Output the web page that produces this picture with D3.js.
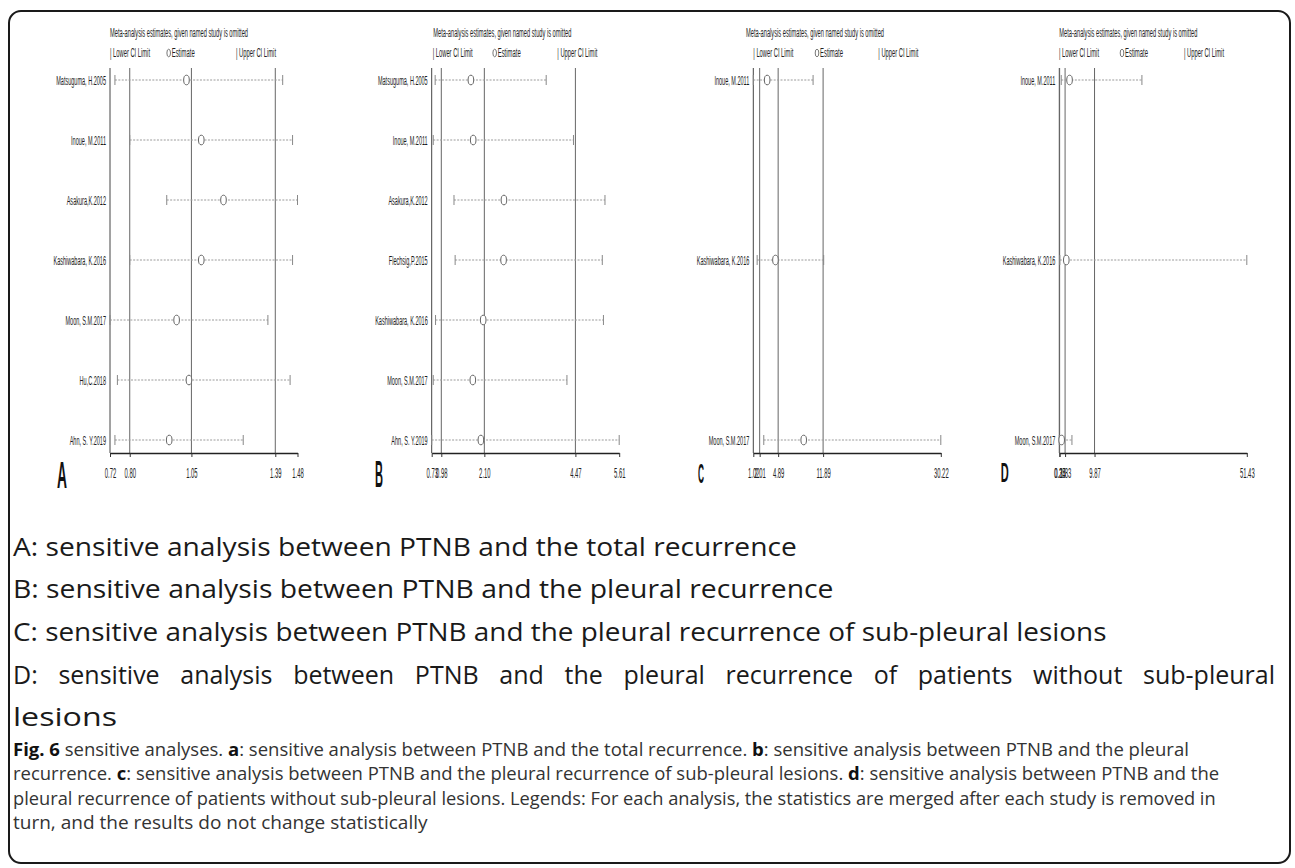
<!DOCTYPE html>
<html><head><meta charset="utf-8">
<script src="https://cdn.jsdelivr.net/npm/d3@7"></script>
<style>body{margin:0;background:#fff}</style>
</head><body><script>
// ---------------- data ----------------
const panelLetters = ["A", "B", "C", "D"];

const studiesA = ["Matsuguma, H.2005", "Inoue, M.2011", "Asakura,K.2012", "Kashiwabara, K.2016", "Moon, S.M.2017", "Hu,C.2018", "Ahn, S. Y.2019"];
const lowerA = [0.74, 0.80, 0.95, 0.80, 0.72, 0.75, 0.74];
const estA   = [1.03, 1.09, 1.18, 1.09, 0.99, 1.04, 0.96];
const upperA = [1.42, 1.46, 1.48, 1.46, 1.36, 1.45, 1.26];
const ticksA = [0.72, 0.80, 1.05, 1.39, 1.48];
const tickLabelsA = ["0.72", "0.80", "1.05", "1.39", "1.48"];

const studiesB = ["Matsuguma, H.2005", "Inoue, M.2011", "Asakura,K.2012", "Flechsig,P.2015", "Kashiwabara, K.2016", "Moon, S.M.2017", "Ahn, S. Y.2019"];
const lowerB = [0.82, 0.77, 1.31, 1.34, 0.83, 0.77, 0.73];
const estB   = [1.75, 1.81, 2.61, 2.60, 2.07, 1.80, 2.01];
const upperB = [3.71, 4.42, 5.24, 5.17, 5.20, 4.25, 5.61];
const ticksB = [0.73, 0.98, 2.10, 4.47, 5.61];
const tickLabelsB = ["0.73", "0.98", "2.10", "4.47", "5.61"];

const studiesC = ["Inoue, M.2011", "Kashiwabara, K.2016", "Moon, S.M.2017"];
const lowerC = [1.02, 1.62, 2.65];
const estC   = [3.18, 4.47, 8.87];
const upperC = [10.33, 11.98, 30.22];
const ticksC = [1.02, 2.01, 4.89, 11.89, 30.22];
const tickLabelsC = ["1.02", "2.01", "4.89", "11.89", "30.22"];

const studiesD = ["Inoue, M.2011", "Kashiwabara, K.2016", "Moon, S.M.2017"];
const lowerD = [0.78, 0.40, 0.25];
const estD   = [3.05, 2.16, 0.90];
const upperD = [22.8, 51.43, 3.70];
const ticksD = [0.25, 0.34, 1.83, 9.87, 51.43];
const tickLabelsD = ["0.25", "0.34", "1.83", "9.87", "51.43"];

const titleText = "Meta-analysis estimates, given named study is omitted";
const legendTexts = ["| Lower CI Limit", "Estimate", "| Upper CI Limit"];

const captionLines = [
  "A: sensitive analysis between PTNB and the total recurrence",
  "B: sensitive analysis between PTNB and the pleural recurrence",
  "C: sensitive analysis between PTNB and the pleural recurrence of sub-pleural lesions",
  "D: sensitive analysis between PTNB and the pleural recurrence of patients without sub-pleural",
  "lesions"
];
const figLines = [
  [["Fig. 6", true], [" sensitive analyses. ", false], ["a", true], [": sensitive analysis between PTNB and the total recurrence. ", false], ["b", true], [": sensitive analysis between PTNB and the pleural", false]],
  [["recurrence. ", false], ["c", true], [": sensitive analysis between PTNB and the pleural recurrence of sub-pleural lesions. ", false], ["d", true], [": sensitive analysis between PTNB and the", false]],
  [["pleural recurrence of patients without sub-pleural lesions. Legends: For each analysis, the statistics are merged after each study is removed in", false]],
  [["turn, and the results do not change statistically", false]]
];

// ---------------- layout ----------------
const W = 1295, H = 868;
const svg = d3.select("body").append("svg").attr("width", W).attr("height", H);
svg.append("rect").attr("width", W).attr("height", H).attr("fill", "#fff");
svg.append("rect").attr("x", 9).attr("y", 11).attr("width", 1281).attr("height", 852)
  .attr("rx", 12).attr("fill", "none").attr("stroke", "#1a1a1a").attr("stroke-width", 2);

const panels = [
  {studies: studiesA, lower: lowerA, est: estA, upper: upperA, ticks: ticksA, labels: tickLabelsA},
  {studies: studiesB, lower: lowerB, est: estB, upper: upperB, ticks: ticksB, labels: tickLabelsB},
  {studies: studiesC, lower: lowerC, est: estC, upper: upperC, ticks: ticksC, labels: tickLabelsC},
  {studies: studiesD, lower: lowerD, est: estD, upper: upperD, ticks: ticksD, labels: tickLabelsD}
];
const layout = [
  {x0: 110,    titleX: 110,    legX: [110, 166.7, 236],      letterX: 57,    letterY: 488, letterSize: 37, letterW: 10},
  {x0: 431.7,  titleX: 433.3,  legX: [432.7, 492.7, 557.3],  letterX: 375,   letterY: 487, letterSize: 37, letterW: 8},
  {x0: 753.3,  titleX: 746,    legX: [753.3, 815, 878.3],    letterX: 698,   letterY: 483, letterSize: 28, letterW: 6},
  {x0: 1059.3, titleX: 1059.3, legX: [1059, 1120, 1184],     letterX: 1000.7, letterY: 482, letterSize: 28, letterW: 8}
];
const PW = 187.5, yTop = 68, yAxis = 453, rowTop = 80, rowBot = 440;
const smallFont = "'Liberation Sans', Arial, sans-serif";

panels.forEach((p, i) => {
  const L = layout[i];
  const g = svg.append("g");
  const x = d3.scaleLinear().domain([p.ticks[0], p.ticks[4]]).range([L.x0, L.x0 + PW]);
  const y = d3.scalePoint().domain(p.studies).range([rowTop, rowBot]);

  // header
  g.append("text").attr("x", L.titleX).attr("y", 37).attr("font-family", smallFont).attr("font-size", 12)
    .attr("fill", "#222").attr("textLength", 138).attr("lengthAdjust", "spacingAndGlyphs").text(titleText);
  g.append("text").attr("x", L.legX[0]).attr("y", 57).attr("font-family", smallFont).attr("font-size", 12)
    .attr("fill", "#222").attr("textLength", 40).attr("lengthAdjust", "spacingAndGlyphs").text(legendTexts[0]);
  g.append("ellipse").attr("cx", L.legX[1] + 2).attr("cy", 53).attr("rx", 1.8).attr("ry", 3.8)
    .attr("fill", "none").attr("stroke", "#555").attr("stroke-width", 0.8);
  g.append("text").attr("x", L.legX[1] + 5).attr("y", 57).attr("font-family", smallFont).attr("font-size", 12)
    .attr("fill", "#222").attr("textLength", 23).attr("lengthAdjust", "spacingAndGlyphs").text(legendTexts[1]);
  g.append("text").attr("x", L.legX[2]).attr("y", 57).attr("font-family", smallFont).attr("font-size", 12)
    .attr("fill", "#222").attr("textLength", 40).attr("lengthAdjust", "spacingAndGlyphs").text(legendTexts[2]);

  // vertical reference lines (axis min, overall lower, estimate, upper)
  g.selectAll("line.ref").data(p.ticks.slice(0, 4)).join("line").attr("class", "ref")
    .attr("x1", d => x(d)).attr("x2", d => x(d)).attr("y1", yTop).attr("y2", yAxis)
    .attr("stroke", (d, k) => k === 0 ? "#444" : "#666").attr("stroke-width", 1);

  // axis
  const ax = d3.axisBottom(x).tickValues(p.ticks).tickFormat((d, k) => p.labels[k])
    .tickSize(4).tickSizeOuter(0).tickPadding(11);
  const axg = g.append("g").attr("transform", `translate(0,${yAxis})`).call(ax);
  axg.select(".domain").attr("stroke", "#222").attr("stroke-width", 1.3);
  axg.selectAll(".tick line").attr("stroke", "#333");
  axg.selectAll(".tick text").attr("font-family", smallFont).attr("font-size", 14).attr("fill", "#222")
    .attr("transform", "scale(0.42,1)");

  // study labels
  g.selectAll("text.study").data(p.studies).join("text").attr("class", "study")
    .attr("transform", d => `translate(${L.x0 - 4},${y(d)}) scale(0.41,1)`)
    .attr("text-anchor", "end").attr("dy", "0.35em")
    .attr("font-family", smallFont).attr("font-size", 13.5).attr("fill", "#1a1a1a").text(d => d);

  // CI bars
  const rows = p.studies.map((s, k) => ({s, lo: p.lower[k], e: p.est[k], hi: p.upper[k]}));
  g.selectAll("line.ci").data(rows).join("line").attr("class", "ci")
    .attr("x1", d => x(d.lo)).attr("x2", d => x(d.hi)).attr("y1", d => y(d.s)).attr("y2", d => y(d.s))
    .attr("stroke", "#9a9a9a").attr("stroke-width", 1).attr("stroke-dasharray", "2,1.4");
  g.selectAll("line.capL").data(rows).join("line").attr("class", "capL")
    .attr("x1", d => x(d.lo)).attr("x2", d => x(d.lo)).attr("y1", d => y(d.s) - 5).attr("y2", d => y(d.s) + 5)
    .attr("stroke", "#888").attr("stroke-width", 1);
  g.selectAll("line.capU").data(rows).join("line").attr("class", "capU")
    .attr("x1", d => x(d.hi)).attr("x2", d => x(d.hi)).attr("y1", d => y(d.s) - 5).attr("y2", d => y(d.s) + 5)
    .attr("stroke", "#888").attr("stroke-width", 1);
  g.selectAll("ellipse.est").data(rows).join("ellipse").attr("class", "est")
    .attr("cx", d => x(d.e)).attr("cy", d => y(d.s)).attr("rx", 2.8).attr("ry", 4.8)
    .attr("fill", "#fff").attr("stroke", "#666").attr("stroke-width", 1);

  // panel letter
  g.append("text").attr("x", L.letterX).attr("y", L.letterY).attr("font-family", smallFont)
    .attr("font-size", L.letterSize).attr("font-weight", 700).attr("fill", "#111").attr("textLength", L.letterW)
    .attr("lengthAdjust", "spacingAndGlyphs").text(panelLetters[i]);
});

// ---------------- captions ----------------
const capFont = "'Open Sans', 'Noto Sans', sans-serif";
const capTargets = [797, 834, 1107, 1275, 117];
const capBase = [556, 598.5, 641, 683.5, 726];
captionLines.forEach((t, i) => {
  const el = svg.append("text").attr("x", 13).attr("y", capBase[i]).attr("font-family", capFont)
    .attr("font-size", 25).attr("fill", "#1a1a1a").text(t);
  const w = el.node().getComputedTextLength();
  const target = capTargets[i] - 13;
  if (i === 3) {
    const spaces = (t.match(/ /g) || []).length;
    el.attr("word-spacing", (target - w) / spaces);
  } else {
    el.attr("transform", `translate(13,0) scale(${target / w},1) translate(-13,0)`);
  }
});

const figTargets = [1190, 1220, 1216, 428];
const figBase = [756, 780.5, 805, 829.5];
figLines.forEach((parts, i) => {
  const el = svg.append("text").attr("x", 13).attr("y", figBase[i]).attr("font-family", capFont)
    .attr("font-size", 17.5).attr("fill", "#333");
  parts.forEach(([s, b]) => {
    el.append("tspan").attr("font-weight", b ? 700 : 400).attr("fill", b ? "#111" : "#333").text(s);
  });
  const w = el.node().getComputedTextLength();
  el.attr("transform", `translate(13,0) scale(${(figTargets[i] - 13) / w},1) translate(-13,0)`);
});
</script></body></html>
